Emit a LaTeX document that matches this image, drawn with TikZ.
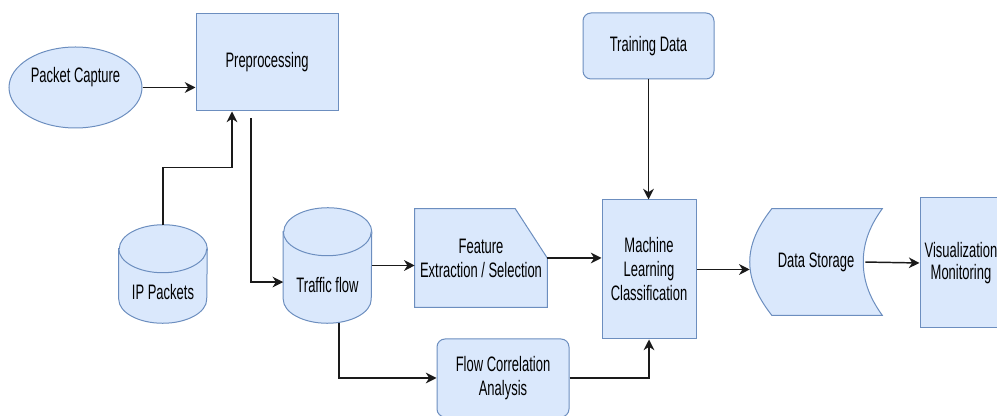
\documentclass[tikz,border=0pt]{standalone}
\usepackage{fontspec}
\setmainfont{Liberation Sans}[FakeStretch=0.62]
\usetikzlibrary{arrows.meta, shapes.geometric, backgrounds}
\definecolor{boxfill}{HTML}{DAE8FC}
\definecolor{boxline}{HTML}{6C8EBF}
\definecolor{flowink}{HTML}{1A1A1A}
% outline of a drum (database) round a frame node
\newcommand{\drum}[1]{%
  \draw[boxstroke, fill=boxfill]
    ([yshift=-18pt]#1.north west) -- ([yshift=18pt]#1.south west)
    arc[start angle=180, end angle=360, x radius=33pt, y radius=18pt]
    -- ([yshift=-18pt]#1.north east)
    arc[start angle=0, end angle=180, x radius=33pt, y radius=18pt]
    -- cycle;
  \draw[boxstroke] ([yshift=-18pt]#1.north west)
    arc[start angle=180, end angle=360, x radius=33pt, y radius=18pt];}

\begin{document}
\begin{tikzpicture}[
  x=0.75pt,
  y=-0.75pt,
  every node/.style={font=\fontsize{15.7pt}{18pt}\selectfont, black},
  box/.style={draw=boxline, fill=boxfill, line width=0.75pt,
              inner sep=0pt, align=center},
  roundbox/.style={box, rounded corners=6pt},
  frame/.style={inner sep=0pt, align=center},
  boxstroke/.style={draw=boxline, line width=0.75pt},
  flow/.style={flowink, line width=1.1pt,
               -{Stealth[length=8pt, width=8pt, inset=2.5pt]}}
]
  \path[use as bounding box, clip] (0,0) rectangle (997,416);

  % ---- nodes ----
  \node[box, ellipse, minimum width=99.75pt, minimum height=60.75pt,
        text height=0pt, text depth=8.2pt]
    (cap) at (75.5,87.5) {Packet Capture};
  \node[box, minimum width=106.5pt, minimum height=72.75pt]
    (pre) at (267,62.5) {Preprocessing};
  \node[frame, minimum width=66pt, minimum height=73.5pt,
        text height=39pt, text depth=0pt]
    (ipp) at (163,274) {IP Packets};
  \node[frame, minimum width=66pt, minimum height=86.25pt,
        text height=39.8pt, text depth=0pt]
    (tfl) at (327.5,265.5) {Traffic flow};
  \node[frame, minimum width=99pt, minimum height=73.5pt]
    (fea) at (481,258) {Feature\\Extraction / Selection};
  \node[roundbox, minimum width=99pt, minimum height=58.5pt]
    (flc) at (503,378) {Flow Correlation\\Analysis};
  \node[roundbox, minimum width=98.25pt, minimum height=49.5pt]
    (trn) at (648.5,46) {Training Data};
  \node[box, minimum width=70.5pt, minimum height=104.25pt]
    (mlc) at (649,269.5) {Machine\\Learning\\Classification};
  \node[frame, minimum width=99pt, minimum height=79.5pt]
    (dst) at (816,262) {Data Storage};
  \node[box, minimum width=61.5pt, minimum height=97.5pt]
    (vis) at (961,263) {Visualization\\[-2pt]Monitoring};

  % ---- drawn outlines behind the frame nodes ----
  \begin{scope}[on background layer]
    \drum{ipp}
    \drum{tfl}
    \draw[boxstroke, fill=boxfill] (fea.north west)
      -- ([xshift=-24pt]fea.north east) -- (fea.east)
      -- (fea.south east) -- (fea.south west) -- cycle;
    \draw[boxstroke, fill=boxfill] ([xshift=16.5pt]dst.north west)
      -- (dst.north east)
      .. controls ([xshift=-10.5pt, yshift=25.5pt]dst.east)
             and ([xshift=-14.25pt, yshift=12.75pt]dst.east)
      .. ([xshift=-14.25pt]dst.east)
      .. controls ([xshift=-14.25pt, yshift=-12.75pt]dst.east)
             and ([xshift=-10.5pt, yshift=-25.5pt]dst.east)
      .. (dst.south east)
      -- ([xshift=16.5pt]dst.south west)
      .. controls ([xshift=5.25pt, yshift=-25.5pt]dst.west)
             and ([yshift=-12.75pt]dst.west)
      .. (dst.west)
      .. controls ([yshift=12.75pt]dst.west)
             and ([xshift=5.25pt, yshift=25.5pt]dst.west)
      .. ([xshift=16.5pt]dst.north west)
      -- cycle;
  \end{scope}

  % ---- connectors ----
  \draw[flow, line width=1.4pt] (cap.east) -- (cap.east -| pre.west);
  \draw[flow] (ipp.north) -- ++(0,-57) -| ([xshift=-26.25pt]pre.south);
  \draw[flow, shorten <=5pt] ([xshift=-12pt]pre.south)
    |- ([yshift=-12.4pt]tfl.west);
  \draw[flow] (tfl.east) -- (tfl.east -| fea.west);
  \draw[flow] ([xshift=8.6pt]tfl.south) |- (flc.west);
  \draw[flow] (fea.east) -- (fea.east -| mlc.west);
  \draw[flow] (flc.east) -| (mlc.south);
  \draw[flow] (trn.south) -- (trn.south |- mlc.north);
  \draw[flow] (mlc.east) -- (mlc.east -| dst.west);
  \draw[flow, shorten <=1.5pt] ([xshift=-14.25pt]dst.east) -- (vis.west);
\end{tikzpicture}
\end{document}
